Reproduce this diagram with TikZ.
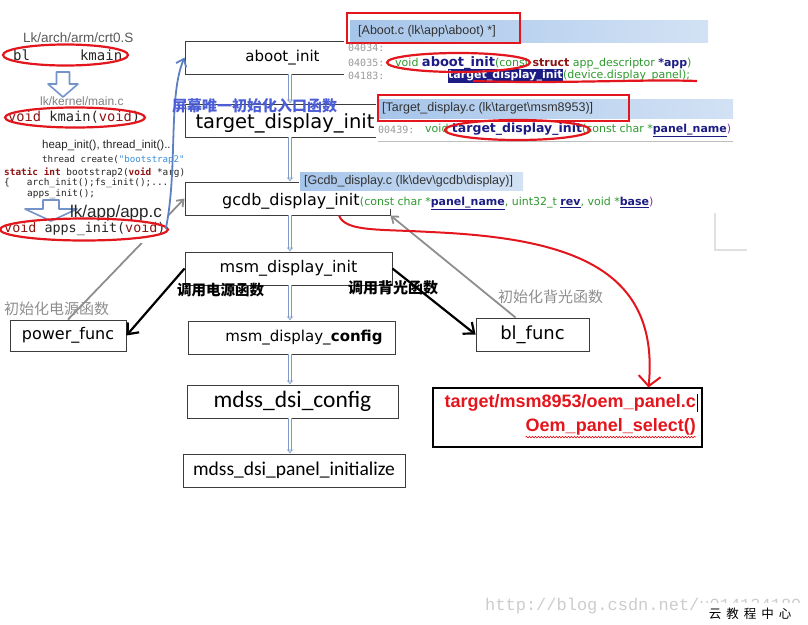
\documentclass[tikz,border=0pt]{standalone}
\usepackage{fontspec}
\setmainfont{DejaVu Sans}
\newfontfamily\boxfont{DejaVu Sans}
\newfontfamily\calfont{Carlito}
\newfontfamily\arialfont{Liberation Sans}
\newfontfamily\monofont{DejaVu Sans Mono}
\newfontfamily\cjkfont{Noto Sans CJK SC}
\newfontfamily\wmfont{Liberation Mono}
\usetikzlibrary{positioning, calc, arrows.meta, decorations.pathmorphing}
\newcommand{\fsz}[1]{\fontsize{#1}{#1}\selectfont}

\definecolor{boxline}{HTML}{3C3C3C}
\definecolor{flowblue}{HTML}{7F9CC8}
\definecolor{codegreen}{HTML}{2E9A2E}
\definecolor{codenavy}{HTML}{1C1C84}
\definecolor{codered}{HTML}{8E1414}
\definecolor{codepurple}{HTML}{8A2BB0}
\definecolor{barblue}{HTML}{A6C5EA}
\definecolor{cnblue}{HTML}{4C5ED6}
\definecolor{inkred}{HTML}{E3161E}
\definecolor{linegray}{HTML}{8E8E8E}
\definecolor{numgray}{HTML}{9A9A9A}
\definecolor{curveblue}{HTML}{5C80C0}
\definecolor{strblue}{HTML}{3A8ED8}

\begin{document}
\begin{tikzpicture}[x=1pt, y=-1pt,
    fbox/.style={draw=boxline, line width=0.9pt, fill=white, inner sep=0pt, font=\boxfont\fsz{16}},
    flow/.style={draw=flowblue, line width=0.7pt, double=white, double distance=2pt, -{Latex[open, length=4pt, width=7pt]}},
    callarrow/.style={draw=black, line width=2.2pt, -{Straight Barb[length=9pt, width=15pt]}},
    initarrow/.style={draw=linegray, line width=1.8pt, -{Straight Barb[length=6pt, width=9pt]}},
    ring/.style={draw=inkred, line width=2.2pt},
    redframe/.style={draw=inkred, line width=2.6pt},
    titlebar/.style={left color=barblue, right color=barblue!50},
    titletext/.style={font=\arialfont\fsz{12.5}, text=black!80, inner sep=0pt, anchor=west},
    numtext/.style={font=\monofont\fsz{10}, text=numgray, inner sep=0pt, anchor=west},
    codetext/.style={font=\boxfont\fsz{11}, inner sep=0pt},
    snip/.style={font=\monofont\fsz{9.4}, text=black!85, inner sep=0pt, anchor=west},
    cnlabel/.style={font=\cjkfont\fsz{15}, inner sep=0pt, anchor=west},
    blockarr/.style={draw=curveblue!85, fill=white, line width=1.6pt, line join=round},
    oemtext/.style={font=\arialfont\bfseries\fsz{18}, text=inkred, inner sep=0pt, anchor=east}
  ]
  \useasboundingbox (0,0) rectangle (808,624);

  % --- call chain ---
  \node[fbox, minimum width=195pt, minimum height=33pt] (aboot) at (282.5,57.5) {\fsz{15}aboot\_init};
  \node[fbox, minimum width=200pt, minimum height=33pt, font=\boxfont\fsz{19.5}, text height=21pt, text depth=4.6pt] (tdi) at (285,120.5) {target\_display\_init};
  \node[fbox, minimum width=205pt, minimum height=33pt] (gcdb) at (287.5,198.5) {};
  \node[fbox, minimum width=207pt, minimum height=33pt] (msm) at (288.5,268.5) {msm\_display\_init};
  \node[fbox, minimum width=207pt, minimum height=33pt] (msmcfg) at (291.5,337.5) {\fsz{15}\hspace{25pt}msm\_display\_\textbf{config}};
  \node[fbox, minimum width=211pt, minimum height=33pt, font=\calfont\fsz{23.5}] (dsicfg) at (292.5,401.5) {mdss\_dsi\_config};
  \node[fbox, minimum width=222pt, minimum height=33pt, font=\calfont\fsz{19.5}] (dsipanel) at (294,470.5) {mdss\_dsi\_panel\_initialize};

  \coordinate (fx) at (290,0);
  \foreach \a/\b in {aboot/tdi, tdi/gcdb, gcdb/msm, msm/msmcfg, msmcfg/dsicfg, dsicfg/dsipanel}
    \draw[flow] (\a.south -| fx) -- (\b.north -| fx);

  % --- power / backlight ---
  \node[fbox, minimum width=116pt, minimum height=31pt] (power) at (68,335.5) {power\_func};
  \node[fbox, minimum width=113pt, minimum height=33pt, font=\boxfont\fsz{18}] (bl) at (532.5,334.5) {bl\_func};

  \draw[callarrow] (msm.west) -- (power.east);
  \draw[callarrow] (msm.east) -- (bl.west);
  \node[cnlabel, font=\cjkfont\bfseries\fsz{14.5}] (pwrcall) at (177,290) {调用电源函数};
  \node[cnlabel, font=\cjkfont\bfseries\fsz{15}] (blcall) at (348,288) {调用背光函数};

  \draw[initarrow] (power.north) -- (gcdb.west);
  \draw[initarrow] (bl.135) -- (gcdb.south east);
  \node[cnlabel, text=linegray] (pwrinit) at (4,309) {初始化电源函数};
  \node[cnlabel, text=linegray] (blinit) at (498,297) {初始化背光函数};

  % --- lk boot path ---
  \fill[white] (0,20) rectangle (168,243);
  \node[snip, font=\arialfont\fsz{13.5}, text=black!65] (crt) at (23,38) {Lk/arch/arm/crt0.S};
  \node[snip, font=\monofont\fsz{14}] (blk) at (13,55) {bl\hspace{50pt}kmain};
  \draw[ring] (65.5,55) ellipse [x radius=62.5pt, y radius=10.5pt];
  \draw[blockarr] (56.5,72) -- ++(13,0) -- ++(0,12) -- ++(8.5,0) -- ++(-15,13) -- ++(-15,-13) -- ++(8.5,0) -- cycle;
  \node[snip, font=\arialfont\fsz{12}, text=black!50] (mainc) at (40,101) {lk/kernel/main.c};
  \node[snip, font=\monofont\fsz{13.7}] (kmain) at (8,117.5) {\textcolor{codered}{void} kmain(\textcolor{codered}{void})};
  \draw[ring] (75,117.5) ellipse [x radius=70pt, y radius=10pt];
  \node[snip, font=\arialfont\fsz{11.5}] (heap) at (42,146) {heap\_init(), thread\_init()..};
  \node[snip, font=\monofont\fsz{9.1}] (thr) at (42,160) {thread create(\textcolor{strblue}{"bootstrap2"}};
  \node[snip] (boot) at (4,172.5) {\textcolor{codered}{\bfseries static int} bootstrap2(\textcolor{codered}{\bfseries void} *arg)};
  \node[snip] (arch) at (4,183.5) {\{\hspace{17pt}arch\_init();fs\_init();...};
  \node[snip] (apps) at (27,194.5) {apps\_init();};
  \draw[blockarr] (43,200) -- ++(16,0) -- ++(0,9) -- ++(18,0) -- ++(-26,12) -- ++(-26,-12) -- ++(18,0) -- cycle;
  \node[snip, font=\arialfont\fsz{17}, text=black!85] (appc) at (70,213) {lk/app/app.c};
  \node[snip, font=\monofont\fsz{13.4}] (appsinit) at (4,229) {\textcolor{codered}{void} apps\_init(\textcolor{codered}{void})};
  \draw[ring] (84,229.5) ellipse [x radius=84pt, y radius=11pt];
  \draw[curveblue, line width=1.8pt, -{Straight Barb[length=7pt, width=11pt]}] (appsinit.east) .. controls (178,170) and (168,95) .. (aboot.west);

  \node[cnlabel, font=\cjkfont\bfseries\fsz{15}, text=cnblue] (entry) at (172,106) {屏幕唯一初始化入口函数};

  % --- Aboot.c ---
  \fill[white] (344,11) rectangle (712,87);
  \shade[titlebar] (350,20) rectangle (708,42);
  \node[titletext] (abtitle) at (358,31) {[Aboot.c (lk\textbackslash app\textbackslash aboot) *]};
  \draw[redframe] (347,13) rectangle (520,43);
  \node[numtext] (abn1) at (348,48) {04034:};
  \node[numtext] (abn2) at (348,63) {04035:};
  \node[numtext] (abn3) at (348,76) {04183:};
  \node[codetext, anchor=west] (abdef) at (395,63) {\textcolor{codegreen}{void} {\fsz{13}\bfseries\textcolor{codenavy}{aboot\_init}}\textcolor{codegreen}{(const} \textcolor{codered}{\bfseries struct} \textcolor{codegreen}{app\_descriptor} \textcolor{codenavy}{\bfseries *app}\textcolor{codegreen}{)}};
  \node[codetext, anchor=west, fill=codenavy, text=white, font=\boxfont\bfseries\fsz{11}, inner ysep=1.5pt] (abcall) at (448,76) {target\_display\_init};
  \node[codetext, anchor=west, text=codegreen] (abargs) at (abcall.east) {(device.display\_panel);};
  \draw[ring] (458.5,62.5) ellipse [x radius=71.5pt, y radius=9.5pt];
  \draw[ring] (473,81) .. controls (560,84) and (640,79) .. (697,81);

  % --- Target_display.c ---
  \fill[white] (376,93) rectangle (736,143);
  \shade[titlebar] (378,99) rectangle (733,118);
  \node[titletext] (tdtitle) at (382,108.5) {[Target\_display.c (lk\textbackslash target\textbackslash msm8953)]};
  \draw[redframe] (378,95) rectangle (629,121);
  \node[numtext] (tdnum) at (378,130) {00439:};
  \node[codetext, anchor=west] (tddef) at (425,130) {\textcolor{codegreen}{void} {\fsz{12.5}\bfseries\textcolor{codenavy}{target\_display\_init}}\textcolor{codegreen}{(const char *}\textcolor{codenavy}{\bfseries\underline{panel\_name}}\textcolor{codepurple}{)}};
  \draw[black!25, line width=0.6pt] (378,141) -- (733,141);
  \draw[ring] (517.5,130) ellipse [x radius=72.5pt, y radius=10pt];

  % --- Gcdb_display.c ---
  \fill[white] (299,171) rectangle (666,209);
  \shade[titlebar] (300,172) rectangle (523,190);
  \node[titletext] (gctitle) at (304,181) {[Gcdb\_display.c (lk\textbackslash dev\textbackslash gcdb\textbackslash display)]};
  \node[inner sep=0pt, anchor=west, font=\boxfont\fsz{16}] (gcdbtxt) at (222,201) {gcdb\_display\_init};
  \node[codetext, anchor=base west] (gcdbargs) at (gcdbtxt.base east) {\textcolor{codegreen}{(const char *}\textcolor{codenavy}{\bfseries\underline{panel\_name}}\textcolor{codegreen}{, uint32\_t }\textcolor{codenavy}{\bfseries\underline{rev}}\textcolor{codegreen}{, void *}\textcolor{codenavy}{\bfseries\underline{base}}\textcolor{codepurple}{)}};
  \draw[black!12, line width=1.5pt] (715,213) -- (715,250) -- (747,250);

  % --- oem_panel.c ---
  \node[draw=black, line width=1.1pt, minimum width=269pt, minimum height=59pt] (oem) at (567.5,417.5) {};
  \node[oemtext] (oempath) at (696,403) {target/msm8953/oem\_panel.c};
  \node[oemtext] (oemsel) at (696,427) {Oem\_panel\_select()};
  \draw[inkred, line width=0.6pt, decorate, decoration={snake, amplitude=0.8pt, segment length=3pt}] ([yshift=-1.5pt]oemsel.south west) -- ([yshift=-1.5pt]oemsel.south east);
  \draw[black, line width=0.8pt] ([xshift=1.5pt]oempath.north east) -- ([xshift=1.5pt]oempath.south east);
  \draw[inkred, line width=2pt, -{Straight Barb[length=10pt, width=22pt]}] ($(gcdb.south east)!0.25!(gcdb.south west)$) .. controls (345,232) and (380,229) .. (430,232) .. controls (570,238) and (660,268) .. ($(oem.north)!0.6!(oem.north east)$);

  % --- watermark ---
  \node[font=\wmfont\fsz{17}, text=black!20, anchor=west, inner sep=0pt] (wm) at (485,606) {http://blog.csdn.net/u014134189};
  \node[fill=white, inner sep=0pt, minimum width=100pt, minimum height=21pt, font=\cjkfont\fsz{12.5}, anchor=north west] (site) at (700,603) {云\hspace{5pt}教\hspace{5pt}程\hspace{5pt}中\hspace{5pt}心};
\end{tikzpicture}
\end{document}
